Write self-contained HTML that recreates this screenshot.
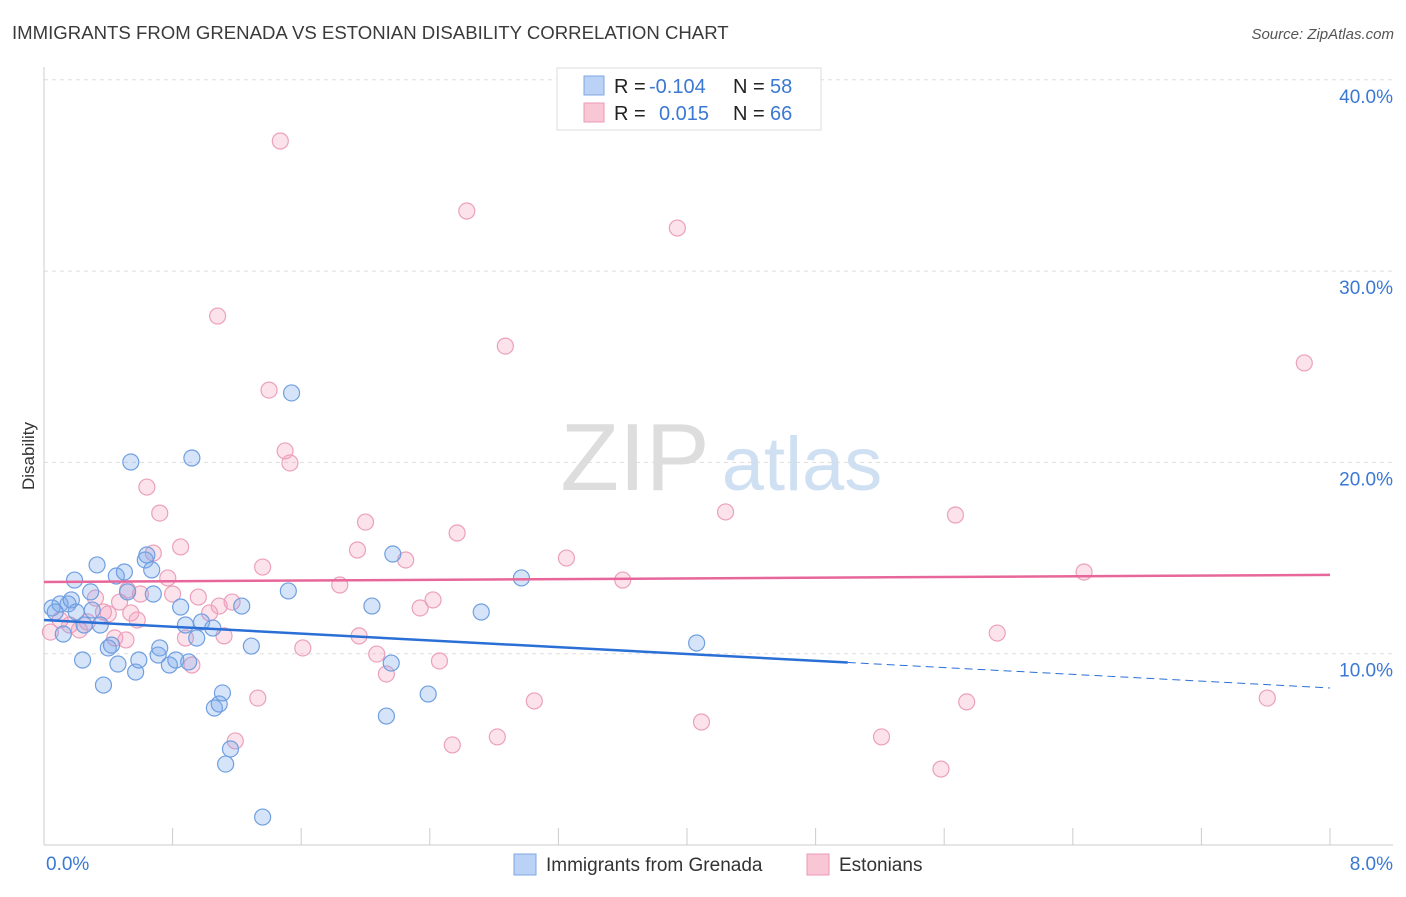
<!DOCTYPE html>
<html><head><meta charset="utf-8"><style>
body{margin:0;background:#fff;font-family:"Liberation Sans",sans-serif;}
svg text{font-family:"Liberation Sans",sans-serif;}
</style></head><body>
<svg id="chart" width="1406" height="892">
<text x="12" y="39" font-size="18.6" fill="#3a3a3a">IMMIGRANTS FROM GRENADA VS ESTONIAN DISABILITY CORRELATION CHART</text>
<text x="1394" y="39" font-size="15" fill="#555" font-style="italic" text-anchor="end">Source: ZipAtlas.com</text>
<text x="34" y="456" font-size="17" fill="#333" transform="rotate(-90 34 456)" text-anchor="middle">Disability</text>
<g>
<text x="635" y="490" font-size="96" fill="#ddd" text-anchor="middle" font-family="Liberation Serif">ZIP</text>
<text x="802" y="490" font-size="76" fill="#cfe0f3" text-anchor="middle">atlas</text>
</g>
<g id="grid"></g><g id="axes"></g><g id="pts"></g><g id="lines"></g>
<g>
<rect x="557" y="68" width="264" height="62" fill="#fff" stroke="#ddd"/>
<rect x="584" y="76" width="20" height="19" fill="#b9d2f5" stroke="#7fa7e3"/>
<rect x="584" y="103" width="20" height="19" fill="#f9c6d6" stroke="#ec9ab6"/>
<text x="614" y="93" font-size="20" fill="#222">R = </text><text x="649" y="93" font-size="20" fill="#3a78d4">-0.104</text>
<text x="733" y="93" font-size="20" fill="#222">N = </text><text x="770" y="93" font-size="20" fill="#3a78d4">58</text>
<text x="614" y="120" font-size="20" fill="#222">R = </text><text x="659" y="120" font-size="20" fill="#3a78d4">0.015</text>
<text x="733" y="120" font-size="20" fill="#222">N = </text><text x="770" y="120" font-size="20" fill="#3a78d4">66</text>
</g>
<g>
<rect x="514" y="854" width="22" height="21" fill="#b9d2f5" stroke="#7fa7e3"/>
<text x="546" y="871" font-size="19" fill="#333">Immigrants from Grenada</text>
<rect x="807" y="854" width="22" height="21" fill="#f9c6d6" stroke="#ec9ab6"/>
<text x="839" y="871" font-size="19" fill="#333">Estonians</text>
</g>
</svg>
<script>
const yTicks=[10,20,30,40];
const xTickLabels=["0.0%","8.0%"];
const blueX=[.05,.07,.10,.12,.15,.17,.19,.20,.24,.25,.29,.30,.33,.35,.37,.40,.42,.45,.46,.50,.52,.54,.57,.59,.63,.64,.67,.68,.71,.72,.78,.82,.85,.88,.90,.92,.95,.98,1.05,1.06,1.09,1.11,1.13,1.16,1.23,1.29,1.36,1.52,1.54,2.04,2.13,2.16,2.17,2.39,2.72,2.97,4.06];
const blueY=[12.39,12.18,12.60,11.03,12.60,12.81,13.85,12.18,9.67,11.50,13.23,12.28,14.64,11.50,8.36,10.30,10.45,14.06,9.46,14.27,13.23,20.02,9.04,9.67,14.90,15.16,14.38,13.12,9.93,10.30,9.41,9.67,12.44,11.50,9.57,20.23,10.82,11.66,11.34,7.16,7.37,7.95,4.23,5.02,12.49,10.40,1.46,13.28,23.63,12.49,6.74,9.51,15.21,7.89,12.18,13.96,10.56];
const pinkX=[1.47,1.08,2.63,3.94,2.87,7.84,1.40,1.50,1.53,.64,.72,2.00,4.24,5.67,2.57,.85,.68,1.95,2.25,3.25,1.36,.77,1.84,3.60,6.47,.32,.47,.52,.80,.96,1.17,1.03,.54,.37,.40,.10,.16,.22,.04,.27,.44,.51,.88,1.12,1.61,1.96,2.07,2.34,2.42,2.46,2.13,.92,1.33,3.05,4.09,2.82,2.54,1.19,5.21,5.74,5.58,5.93,7.61,1.09,.60,.58];
const pinkY=[36.80,27.65,33.14,32.25,26.08,25.20,23.78,20.60,19.97,18.71,17.35,16.88,17.41,17.25,16.31,15.58,15.26,15.42,14.90,15.00,14.53,13.96,13.59,13.85,14.27,12.91,12.70,13.33,13.12,12.96,12.70,12.13,12.13,12.18,12.08,11.76,11.50,11.24,11.13,11.66,10.82,10.72,10.82,10.93,10.30,10.93,9.98,12.39,12.81,9.62,8.94,9.41,7.68,7.53,6.43,5.65,5.23,5.44,5.65,7.48,3.97,11.08,7.68,12.49,13.12,11.76];
const blueTrend=[11.76,8.21];
const pinkTrend=[13.75,14.12];
const NS="http://www.w3.org/2000/svg";
const X=v=>44+v*160.75, Y=v=>845-v*19.13;
function mk(t,a,p){const e=document.createElementNS(NS,t);for(const k in a)e.setAttribute(k,a[k]);p.appendChild(e);return e;}
const grid=document.getElementById('grid'),axes=document.getElementById('axes'),pts=document.getElementById('pts'),lines=document.getElementById('lines');
yTicks.forEach(t=>{const l=mk('line',{x1:44,x2:1393,y1:Y(t),y2:Y(t),stroke:'#ddd','stroke-dasharray':'4,4'},grid);


const tx=mk('text',{x:1393,y:Y(t)+23,'font-size':19,fill:'#3a78d4','text-anchor':'end'},axes);tx.textContent=t.toFixed(1)+'%';

});
const ax=mk('line',{x1:44,x2:44,y1:67,y2:845,stroke:'#ccc'},axes);


const bx=mk('line',{x1:44,x2:1393,y1:845,y2:845,stroke:'#ccc'},axes);


for(let i=1;i<=10;i++){const tk=mk('line',{x1:X(i*0.8),x2:X(i*0.8),y1:828,y2:845,stroke:'#ccc'},axes);

}
[[0,'start',46],[8,'end',1393]].forEach((d,i)=>{const t=mk('text',{x:d[2],y:870,'font-size':19,fill:'#3a78d4','text-anchor':d[1]},axes);t.textContent=xTickLabels[i];

});
pinkX.forEach((v,i)=>{const c=mk('circle',{cx:X(v),cy:Y(pinkY[i]),r:8,fill:'rgba(244,160,190,0.3)',stroke:'#eba0bb','stroke-width':1.2},pts);

});
blueX.forEach((v,i)=>{const c=mk('circle',{cx:X(v),cy:Y(blueY[i]),r:8,fill:'rgba(120,165,235,0.3)',stroke:'#6f9fe0','stroke-width':1.2},pts);

});
const bAt=x=>blueTrend[0]+(blueTrend[1]-blueTrend[0])*x/8;
const bl=mk('line',{x1:X(0),y1:Y(bAt(0)),x2:X(5),y2:Y(bAt(5)),stroke:'#2a6fd6','stroke-width':2.5},lines);


const bd=mk('line',{x1:X(5),y1:Y(bAt(5)),x2:X(8),y2:Y(bAt(8)),stroke:'#2a6fd6','stroke-width':1,'stroke-dasharray':'8,5'},lines);


const pl=mk('line',{x1:X(0),y1:Y(pinkTrend[0]),x2:X(8),y2:Y(pinkTrend[1]),stroke:'#e8679a','stroke-width':2.5},lines);


</script>
</body></html>
